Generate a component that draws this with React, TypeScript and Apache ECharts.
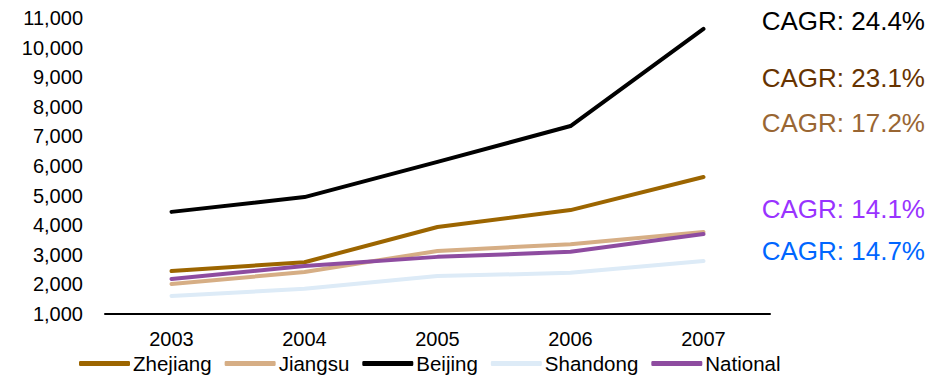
import React, { useEffect, useRef } from "react";
import * as echarts from "echarts";

const years = ["2003", "2004", "2005", "2006", "2007"];
const zhejiang = [2450, 2750, 3940, 4510, 5630];
const jiangsu = [2010, 2420, 3130, 3360, 3770];
const beijing = [4450, 4950, 6140, 7350, 10630];
const shandong = [1610, 1850, 2280, 2390, 2790];
const national = [2180, 2620, 2930, 3100, 3700];

const cagrLabels = ["CAGR: 24.4%", "CAGR: 23.1%", "CAGR: 17.2%", "CAGR: 14.1%", "CAGR: 14.7%"];
const cagrColors = ["#000000", "#663300", "#996633", "#9933FF", "#0066FF"];
const cagrY = [21, 78, 123, 209, 251];

const FONT = "'Liberation Sans', Arial, sans-serif";

export default function App() {
  const ref = useRef<HTMLDivElement>(null);
  useEffect(() => {
    if (!ref.current) return;
    const chart = echarts.init(ref.current, null, { renderer: "svg" });
    const mk = (name: string, data: number[], color: string) => ({
      name,
      type: "line",
      data,
      showSymbol: false,
      symbol: "none",
      lineStyle: { color, width: 4, cap: "round", join: "round" },
      itemStyle: { color },
      z: 2,
    });
    chart.setOption({
      animation: false,
      textStyle: { fontFamily: FONT },
      grid: { left: 105, right: 175, top: 18, bottom: 62, containLabel: false },
      xAxis: {
        type: "category",
        data: years,
        boundaryGap: true,
        axisLine: { show: true, lineStyle: { color: "#000", width: 2 } },
        axisTick: { show: false },
        axisLabel: { color: "#000", fontSize: 20, fontFamily: FONT, margin: 15 },
        splitLine: { show: false },
      },
      yAxis: {
        type: "value",
        min: 1000,
        max: 11000,
        interval: 1000,
        axisLine: { show: false },
        axisTick: { show: false },
        splitLine: { show: false },
        axisLabel: {
          color: "#000",
          fontSize: 20,
          fontFamily: FONT,
          margin: 22,
          formatter: (v: number) => v.toLocaleString("en-US"),
        },
      },
      legend: {
        left: 74,
        top: 348,
        itemWidth: 51,
        itemHeight: 5,
        itemGap: 13,
        icon: "roundRect",
        textStyle: { color: "#000", fontSize: 20.5, fontFamily: FONT, padding: [0, 0, 0, -2] },
        data: ["Zhejiang", "Jiangsu", "Beijing", "Shandong", "National"],
      },
      graphic: cagrLabels.map((t, i) => ({
        type: "text",
        x: 925,
        y: cagrY[i],
        style: {
          text: t,
          fill: cagrColors[i],
          font: `26px ${FONT}`,
          textAlign: "right",
          textVerticalAlign: "middle",
        },
      })),
      series: [
        mk("Zhejiang", zhejiang, "#9C6500"),
        mk("Jiangsu", jiangsu, "#D6AE85"),
        mk("Beijing", beijing, "#000000"),
        mk("Shandong", shandong, "#DDEBF7"),
        mk("National", national, "#8E4CA0"),
      ],
    });
    return () => chart.dispose();
  }, []);
  return <div ref={ref} style={{ width: 945, height: 376, position: "absolute", left: 0, top: 0 }} />;
}
